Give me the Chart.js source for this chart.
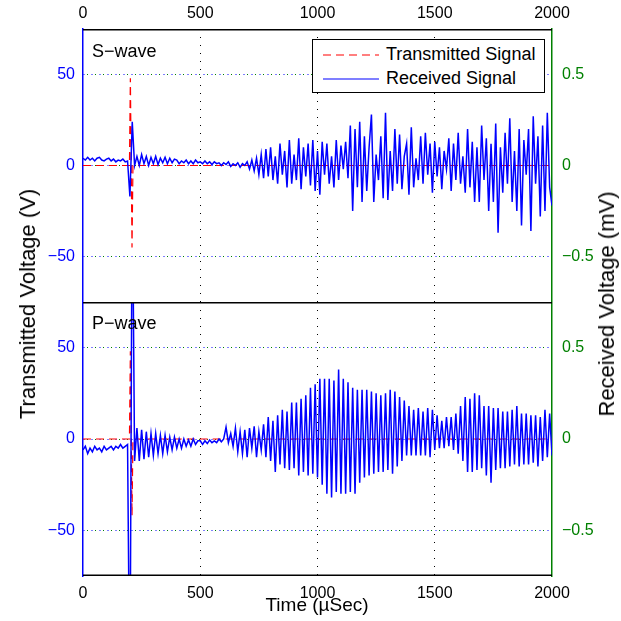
<!DOCTYPE html>
<html>
<head>
<meta charset="utf-8">
<script src="https://cdn.jsdelivr.net/npm/chart.js@4.4.1/dist/chart.umd.min.js"></script>
<style>
  body { margin: 0; background: #fff; }
  #wrap { position: relative; width: 621px; height: 621px; overflow: hidden;
          font-family: 'Liberation Sans', Arial, sans-serif; color: #000; }
  canvas { position: absolute; left: 0; }
  #topCanvas { top: 0; }
  #botCanvas { top: 302px; }
  .lbl { position: absolute; white-space: nowrap; z-index: 2; }
  .panel { left: 92px; font-size: 18px; }
  .vtitle { font-size: 22px; transform: translate(-50%, -50%) rotate(-90deg); }
  #legend { position: absolute; left: 312px; top: 39px; width: 231px; height: 52px;
            border: 1px solid #000; background: #fff; z-index: 2; font-size: 18px; }
  #legend .row { position: absolute; left: 10px; height: 22px; line-height: 22px; }
  #legend svg { vertical-align: middle; margin-right: 7px; }
</style>
</head>
<body>
<div id="wrap">
  <canvas id="topCanvas" width="621" height="302"></canvas>
  <canvas id="botCanvas" width="621" height="319"></canvas>
  <div class="lbl panel" style="top:41px;">S−wave</div>
  <div class="lbl panel" style="top:313px;">P−wave</div>
  <div id="legend">
    <div class="row" style="top:3px;"><svg width="56" height="4"><line x1="0" y1="2" x2="56" y2="2" stroke="#ff0000" stroke-width="1.2" stroke-dasharray="8 5"/></svg>Transmitted Signal</div>
    <div class="row" style="top:27px;"><svg width="56" height="4"><line x1="0" y1="2" x2="56" y2="2" stroke="#0000ff" stroke-width="1.2"/></svg>Received Signal</div>
  </div>
  <div class="lbl vtitle" style="left:28px; top:304px;">Transmitted Voltage (V)</div>
  <div class="lbl vtitle" style="left:607px; top:304px;">Received Voltage (mV)</div>
  <div class="lbl" style="left:317px; top:605px; font-size:19px; transform:translate(-50%,-50%);">Time (µSec)</div>
</div>
<script>
// axis ticks
const timeTicks = [0, 500, 1000, 1500, 2000];
const voltTicks = [-50, 0, 50];
const mvTicks = [-0.5, 0, 0.5];

// received signals are sampled every 10 µs
const sampleStep = 10;

// transmitted pulse (V)
const txTimes = [0, 198, 202, 209, 213, 2000];
const sWaveTx = [0, 0, 48, -45, 0, 0];
const pWaveTx = [0, 0, 48, -42, 0, 0];

// received signal, S-wave (mV)
const sWaveRx = [
  0.04,0.03,0.045,0.03,0.04,0.025,0.04,0.045,0.03,0.025,0.035,0.04,0.025,0.035,0.02,0.03,0.025,0.035,0.02,0.025,
  -0.17,0.24,0.0,
  0.05,0.0,0.06,0.01,0.05,0.0,0.045,0.01,0.05,0.005,0.04,0.015,0.045,0.01,0.04,0.015,0.035,
  0.03,0.01,0.025,0.015,0.03,0.01,0.025,0.01,0.03,0.015,0.02,0.01,0.025,0.01,0.02,0.005,0.02,0.01,0.015,0.0,
  0.015,0.005,0.02,-0.005,0.01,0.0,0.015,-0.01,0.01,0.0,
  0.02,-0.02,0.03,-0.03,0.04,-0.05,0.06,-0.07,0.09,-0.06,
  0.1,-0.08,0.05,-0.1,0.12,-0.05,0.08,-0.12,0.14,-0.1,
  0.06,-0.08,0.15,-0.13,0.1,-0.06,0.12,-0.11,0.14,-0.14,
  0.08,-0.16,0.13,-0.05,0.12,-0.1,0.05,-0.12,0.14,-0.08,
  0.11,-0.02,0.13,-0.07,0.22,-0.25,0.2,-0.12,0.24,-0.2,
  0.16,-0.14,0.1,0.28,-0.2,0.06,-0.08,0.16,-0.18,0.29,
  -0.19,0.08,-0.14,0.2,-0.1,0.17,-0.13,0.05,0.12,-0.16,
  0.21,-0.12,0.04,-0.08,0.16,-0.1,0.18,-0.05,0.12,-0.15,
  0.13,-0.06,0.1,-0.13,0.08,-0.02,0.15,-0.14,0.12,-0.08,
  0.18,-0.1,0.05,-0.15,0.2,-0.12,0.13,-0.2,0.1,-0.2,
  0.22,-0.08,0.15,-0.25,0.12,-0.2,0.23,-0.37,0.1,-0.15,
  0.18,-0.1,0.26,-0.2,0.08,-0.25,0.2,-0.33,0.14,-0.05,
  0.2,-0.36,0.27,-0.1,0.16,-0.28,0.22,-0.25,0.29,-0.12,
  -0.22
];

// received signal, P-wave (mV)
const pWaveRx = [
  -0.06,-0.04,-0.08,-0.05,-0.07,-0.04,-0.06,-0.05,-0.07,-0.04,-0.06,-0.05,-0.04,-0.06,-0.04,-0.05,-0.03,-0.05,-0.04,-0.03,
  -1.5,1.5,-0.12,
  0.06,-0.12,0.05,-0.11,0.04,-0.1,0.03,-0.09,
  0.03,-0.08,0.02,-0.08,0.02,-0.07,0.01,-0.06,0.01,-0.05,
  0.0,-0.05,0.0,-0.04,-0.005,-0.04,0.0,-0.03,-0.01,
  -0.01,-0.03,-0.01,-0.025,-0.005,-0.02,-0.01,-0.02,0.0,-0.015,
  0.0,0.065,-0.02,0.03,-0.04,0.06,-0.07,0.04,-0.08,0.05,
  -0.1,0.06,-0.05,0.07,-0.1,0.04,-0.06,0.08,-0.1,0.12,
  -0.12,0.1,-0.18,0.13,-0.14,0.16,-0.16,0.15,-0.17,0.2,
  -0.16,0.2,-0.2,0.22,-0.18,0.24,-0.2,0.28,-0.19,0.3,
  -0.21,0.33,-0.25,0.33,-0.3,0.33,-0.32,0.32,-0.29,0.38,
  -0.3,0.33,-0.3,0.31,-0.29,0.28,-0.3,0.27,-0.24,0.27,
  -0.21,0.27,-0.2,0.26,-0.19,0.25,-0.18,0.24,-0.18,0.25,
  -0.17,0.27,-0.19,0.26,-0.15,0.23,-0.12,0.21,-0.09,0.18,
  -0.09,0.16,-0.09,0.17,-0.09,0.15,-0.09,0.17,-0.1,0.16,
  -0.06,0.13,-0.05,0.1,-0.05,0.12,-0.04,0.12,-0.06,0.14,
  -0.08,0.18,-0.12,0.23,-0.18,0.22,-0.18,0.25,-0.17,0.24,
  -0.16,0.18,-0.2,0.18,-0.24,0.17,-0.17,0.17,-0.16,0.15,
  -0.16,0.15,-0.15,0.16,-0.14,0.18,-0.15,0.14,-0.14,0.14,
  -0.14,0.13,-0.13,0.13,-0.15,0.12,-0.12,0.16,-0.1,0.14,
  -0.09
];

const tickFont = { family: "'Liberation Sans', Arial, sans-serif", size: 16 };
const minus = v => (v < 0 ? '\u2212' + Math.abs(v) : String(v));

// no extra label padding, so the plot areas sit exactly where they should
function noPad(s) { s.paddingTop = 0; s.paddingBottom = 0; s.paddingLeft = 0; s.paddingRight = 0; }

// black top / bottom edges of each panel
const panelFrame = {
  id: 'panelFrame',
  afterDraw(chart, args, opts) {
    const { ctx, chartArea: a } = chart;
    ctx.save();
    ctx.strokeStyle = '#000';
    ctx.lineWidth = 1.5;
    ctx.beginPath();
    if (opts.top) { ctx.moveTo(a.left, a.top + 0.75); ctx.lineTo(a.right, a.top + 0.75); }
    if (opts.bottom) { ctx.moveTo(a.left, a.bottom - 0.75); ctx.lineTo(a.right, a.bottom - 0.75); }
    ctx.stroke();
    ctx.restore();
  }
};

function panelData(tx, rx) {
  return {
    datasets: [
      {
        label: 'Transmitted Signal',
        data: txTimes.map((t, i) => ({ x: t, y: tx[i] })),
        yAxisID: 'yL',
        borderColor: '#ff0000',
        borderWidth: 1.2,
        borderDash: [8, 5],
        pointRadius: 0,
        order: 2
      },
      {
        label: 'Received Signal',
        data: rx.map((v, i) => ({ x: i * sampleStep, y: v })),
        yAxisID: 'yR',
        borderColor: '#0000ff',
        borderWidth: 1.5,
        pointRadius: 0,
        order: 1
      }
    ]
  };
}

function panelOptions(isTop) {
  return {
    responsive: false,
    animation: false,
    events: [],
    layout: { padding: 0 },
    plugins: {
      legend: { display: false },
      tooltip: { enabled: false },
      panelFrame: { top: true, bottom: !isTop }
    },
    scales: {
      x: {
        type: 'linear',
        position: isTop ? 'top' : 'bottom',
        min: 0, max: 2000,
        afterBuildTicks: s => { s.ticks = timeTicks.map(v => ({ value: v })); },
        afterFit: s => { noPad(s); s.height = isTop ? 29 : 45; },
        ticks: { color: '#000', font: tickFont, padding: isTop ? 6 : 8, maxRotation: 0, autoSkip: false, callback: v => String(v) },
        grid: {
          drawTicks: false,
          color: c => (c.tick && (c.tick.value === 0 || c.tick.value === 2000)) ? 'rgba(0,0,0,0)' : '#000'
        },
        border: { display: false, dash: [1, 7] }
      },
      yL: {
        type: 'linear',
        position: 'left',
        min: -75, max: 75,
        afterBuildTicks: s => { s.ticks = voltTicks.map(v => ({ value: v })); },
        afterFit: s => { noPad(s); s.width = 83; },
        ticks: { color: '#0000ff', font: tickFont, padding: 8, callback: minus },
        grid: { drawTicks: false, color: '#0000ff' },
        border: { color: '#0000ff', width: 1.5, dash: [1, 7] }
      },
      yR: {
        type: 'linear',
        position: 'right',
        min: -0.75, max: 0.75,
        afterBuildTicks: s => { s.ticks = mvTicks.map(v => ({ value: v })); },
        afterFit: s => { noPad(s); s.width = 69; },
        ticks: { color: '#008000', font: tickFont, padding: 10, callback: minus },
        grid: { drawTicks: false, color: '#008000' },
        border: { color: '#008000', width: 1.5, dash: [1, 7], dashOffset: 4 }
      }
    }
  };
}

new Chart(document.getElementById('topCanvas'), {
  type: 'line',
  data: panelData(sWaveTx, sWaveRx),
  options: panelOptions(true),
  plugins: [panelFrame]
});

new Chart(document.getElementById('botCanvas'), {
  type: 'line',
  data: panelData(pWaveTx, pWaveRx),
  options: panelOptions(false),
  plugins: [panelFrame]
});
</script>
</body>
</html>
